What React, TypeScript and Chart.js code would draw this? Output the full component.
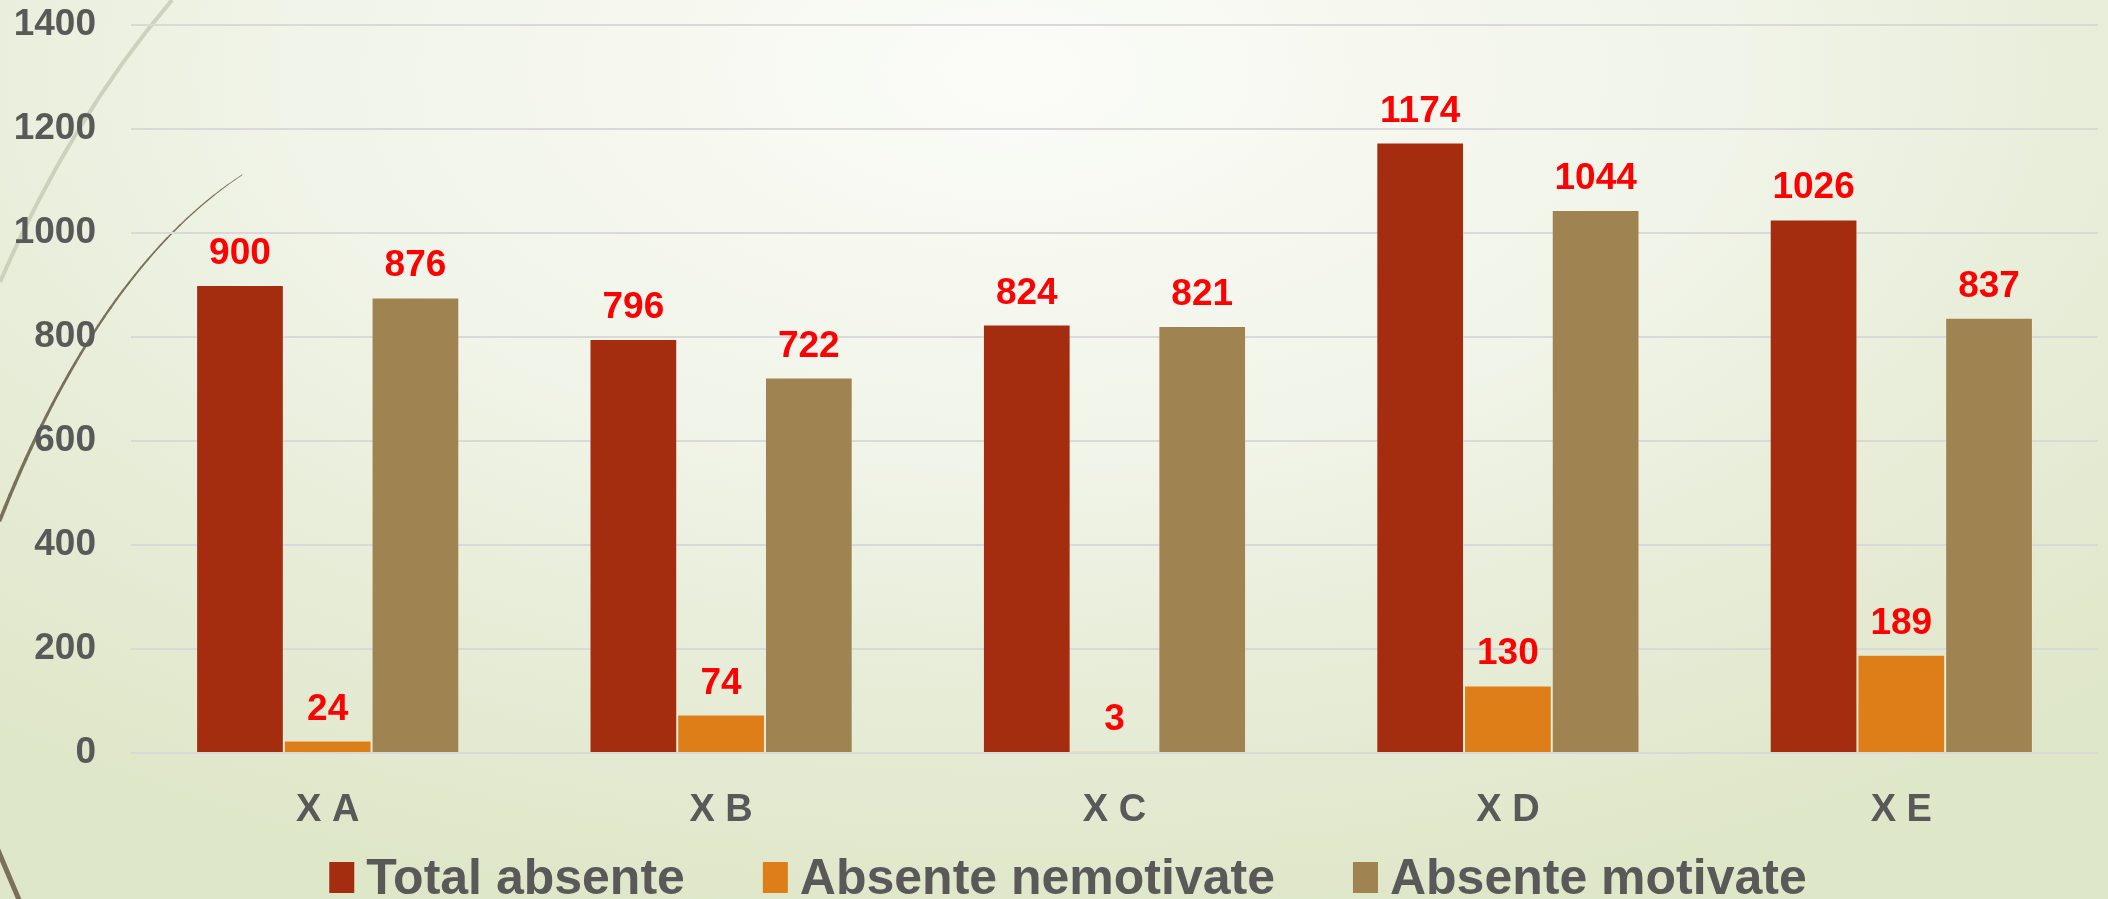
import React, { useEffect, useRef } from "react";
import { Chart, registerables } from "chart.js";

Chart.register(...registerables);

const categories = ["X A", "X B", "X C", "X D", "X E"];
const seriesNames = ["Total absente", "Absente nemotivate", "Absente motivate"];
const totalAbsente = [900, 796, 824, 1174, 1026];
const absenteNemotivate = [24, 74, 3, 130, 189];
const absenteMotivate = [876, 722, 821, 1044, 837];
const seriesColors = ["#A42D10", "#DE7E19", "#9F8351"];
const yMin = 0;
const yMax = 1400;
const yStep = 200;

const FONT = "'Liberation Sans', Arial, sans-serif";
const TEXT_GRAY = "#595959";

const decorPlugin = {
  id: "decor",
  beforeDraw(chart: any) {
    const ctx = chart.ctx;
    ctx.save();
    // light wide arc
    ctx.strokeStyle = "rgba(200,203,180,0.85)";
    ctx.lineWidth = 4;
    ctx.beginPath();
    ctx.moveTo(172, 0);
    ctx.quadraticCurveTo(70, 120, 0, 282);
    ctx.stroke();
    // thin tapered brown curve
    ctx.strokeStyle = "#7b7058";
    ctx.lineCap = "round";
    const p0 = [242, 175], c = [100, 268], p1 = [0, 520];
    const n = 40;
    let prev = p0;
    for (let i = 1; i <= n; i++) {
      const t = i / n;
      const x = (1 - t) * (1 - t) * p0[0] + 2 * (1 - t) * t * c[0] + t * t * p1[0];
      const y = (1 - t) * (1 - t) * p0[1] + 2 * (1 - t) * t * c[1] + t * t * p1[1];
      ctx.lineWidth = 0.8 + 2.8 * t;
      ctx.beginPath();
      ctx.moveTo(prev[0], prev[1]);
      ctx.lineTo(x, y);
      ctx.stroke();
      prev = [x, y];
    }
    // bottom-left thick segment
    ctx.lineWidth = 5;
    ctx.beginPath();
    ctx.moveTo(-2, 850);
    ctx.quadraticCurveTo(8, 874, 20, 902);
    ctx.stroke();
    ctx.restore();
  },
};

const valueLabelPlugin = {
  id: "valueLabels",
  afterDatasetsDraw(chart: any) {
    const ctx = chart.ctx;
    ctx.save();
    ctx.font = `bold 37px ${FONT}`;
    ctx.fillStyle = "#FF0000";
    ctx.textAlign = "center";
    ctx.textBaseline = "alphabetic";
    chart.data.datasets.forEach((ds: any, di: number) => {
      const meta = chart.getDatasetMeta(di);
      meta.data.forEach((bar: any, i: number) => {
        ctx.fillText(String(ds.data[i]), bar.x, bar.y - 21);
      });
    });
    ctx.restore();
  },
};

const legendPlugin = {
  id: "customLegend",
  afterDraw(chart: any) {
    const ctx = chart.ctx;
    ctx.save();
    ctx.font = `bold 50px ${FONT}`;
    const boxW = 25, boxH = 31, gapBoxText = 12, gapItems = 78;
    const items = chart.data.datasets.map((ds: any) => ({
      text: ds.label,
      color: ds.backgroundColor,
      w: ctx.measureText(ds.label).width,
    }));
    const total = items.reduce((s: number, it: any) => s + boxW + gapBoxText + it.w, 0) + gapItems * (items.length - 1);
    let x = chart.width / 2 + 14 - total / 2;
    const baseline = 894;
    items.forEach((it: any) => {
      ctx.fillStyle = it.color;
      ctx.fillRect(x, 862, boxW, boxH);
      x += boxW + gapBoxText;
      ctx.fillStyle = TEXT_GRAY;
      ctx.textAlign = "left";
      ctx.textBaseline = "alphabetic";
      ctx.fillText(it.text, x, baseline);
      x += it.w + gapItems;
    });
    ctx.restore();
  },
};

export default function App() {
  const canvasRef = useRef<HTMLCanvasElement | null>(null);

  useEffect(() => {
    document.body.style.margin = "0";
    const canvas = canvasRef.current;
    if (!canvas) return;
    const chart = new Chart(canvas, {
      type: "bar",
      data: {
        labels: categories,
        datasets: [
          { label: seriesNames[0], data: totalAbsente, backgroundColor: seriesColors[0] },
          { label: seriesNames[1], data: absenteNemotivate, backgroundColor: seriesColors[1] },
          { label: seriesNames[2], data: absenteMotivate, backgroundColor: seriesColors[2] },
        ].map((d) => ({
          ...d,
          barPercentage: 1,
          categoryPercentage: 0.669,
          borderWidth: 1,
          borderColor: "rgba(255,255,255,0.18)",
        })),
      },
      options: {
        responsive: false,
        animation: false,
        layout: { padding: { left: 0, right: 10, top: 25, bottom: 70 } },
        plugins: {
          legend: { display: false },
          tooltip: { enabled: false },
        },
        scales: {
          x: {
            grid: { display: false, drawTicks: false },
            border: { display: false },
            ticks: {
              color: TEXT_GRAY,
              font: { family: FONT, size: 38, weight: "bold" },
              padding: 35,
            },
            afterFit(scale: any) {
              scale.height = 76;
              scale.paddingLeft = 0;
              scale.paddingRight = 0;
            },
          },
          y: {
            min: yMin,
            max: yMax,
            grid: { color: "#d9d9d9", lineWidth: 2, drawTicks: false },
            border: { display: false },
            ticks: {
              stepSize: yStep,
              color: TEXT_GRAY,
              font: { family: FONT, size: 37, weight: "bold" },
              padding: 35,
              callback: (v: any) => String(v),
            },
            afterFit(scale: any) {
              scale.width = 131;
              scale.paddingTop = 0;
              scale.paddingBottom = 0;
            },
          },
        },
      },
      plugins: [decorPlugin, valueLabelPlugin, legendPlugin],
    });
    return () => chart.destroy();
  }, []);

  return (
    <div
      style={{
        position: "fixed",
        left: 0,
        top: 0,
        width: 2108,
        height: 899,
        background:
          "radial-gradient(ellipse 75% 95% at 48% 8%, #fbfcf8 0%, #f1f4e8 45%, #e6ecd6 75%, #dfe7c9 100%)",
      }}
    >
      <canvas ref={canvasRef} width={2108} height={899} style={{ display: "block" }} />
    </div>
  );
}
